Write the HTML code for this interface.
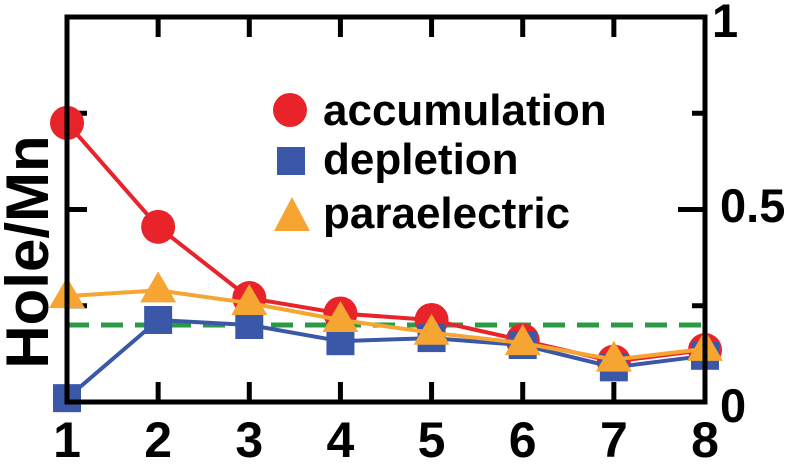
<!DOCTYPE html>
<html><head><meta charset="utf-8"><style>
html,body{margin:0;padding:0;background:#fff;}
svg text{font-family:"Liberation Sans",Arial,sans-serif;font-weight:bold;}
</style></head><body>
<svg id="chart" width="794" height="459" viewBox="0 0 794 459"></svg>
<script>
const layers=[1,2,3,4,5,6,7,8];
const accumulation=[0.725,0.455,0.27,0.23,0.213,0.16,0.105,0.135];
const depletion=[0.01,0.213,0.2,0.158,0.166,0.148,0.09,0.12];
const paraelectric=[0.275,0.29,0.257,0.213,0.18,0.153,0.11,0.138];
const yTickLabels=["0","0.5","1"];
const yTickValues=[0,0.5,1];
const minorYTicks=[0.25,0.5,0.75];
const referenceLevel=0.2;

const L=67,R=705,T=17,B=402;
const xs=v=>L+(v-1)*(R-L)/7;
const ys=v=>B-v*(B-T);
const svg=document.getElementById('chart');
const NS='http://www.w3.org/2000/svg';
function mk(tag,attrs,parent){const e=document.createElementNS(NS,tag);for(const k in attrs)e.setAttribute(k,attrs[k]);(parent||svg).appendChild(e);return e;}

const ticks=mk('g',{stroke:'#000','stroke-width':5});


layers.forEach(v=>{mk('line',{x1:xs(v),x2:xs(v),y1:T,y2:T+20},ticks);mk('line',{x1:xs(v),x2:xs(v),y1:B,y2:B-20},ticks);});
minorYTicks.forEach(v=>{const len=v===0.5?27:13;mk('line',{x1:L,x2:L+20,y1:ys(v),y2:ys(v)},ticks);mk('line',{x1:R,x2:R-len,y1:ys(v),y2:ys(v)},ticks);});

const ref=mk('line',{x1:L,x2:R,y1:ys(referenceLevel),y2:ys(referenceLevel),stroke:'#2a9a45','stroke-width':5,'stroke-dasharray':'22,12'});



function series(data,color,name,shape){
  const g=mk('g',{});
  
  
  mk('polyline',{points:data.map((v,i)=>xs(layers[i])+','+ys(v)).join(' '),fill:'none',stroke:color,'stroke-width':4},g);
  data.forEach((v,i)=>{
    const x=xs(layers[i]),y=ys(v);let m;
    if(shape==='c')m=mk('circle',{cx:x,cy:y,r:17,fill:color},g);
    else if(shape==='s')m=mk('rect',{x:x-14,y:y-14,width:28,height:28,fill:color},g);
    else m=mk('polygon',{points:`${x},${y-19} ${x+18},${y+12} ${x-18},${y+12}`,fill:color},g);
    
    
  });
}
series(accumulation,'#e8232a','accumulation','c');
series(depletion,'#3b58a8','depletion','s');
series(paraelectric,'#f6a533','paraelectric','t');

const frame=mk('rect',{x:L,y:T,width:R-L,height:B-T,fill:'none',stroke:'#000','stroke-width':5});



layers.forEach(v=>{const t=mk('text',{x:xs(v),y:457,'text-anchor':'middle','font-size':50});t.textContent=v;

});
const yBase=[422,222,37];
yTickValues.forEach((v,i)=>{const t=mk('text',{x:(v===1?712:720),y:yBase[i],'font-size':47});t.textContent=yTickLabels[i];

});
const yt=mk('text',{x:0,y:0,'font-size':60,'text-anchor':'middle',transform:'translate(48,252) rotate(-90)'});
yt.textContent='Hole/Mn';



const lg=mk('g',{});


mk('circle',{cx:290,cy:110,r:17,fill:'#e8232a'},lg);
mk('rect',{x:277,y:147,width:28,height:28,fill:'#3b58a8'},lg);
mk('polygon',{points:'292,197 310,231 274,231',fill:'#f6a533'},lg);
[['accumulation',125],['depletion',174],['paraelectric',228]].forEach(([s,y])=>{const t=mk('text',{x:323,y:y,'font-size':44},lg);t.textContent=s;

});
</script>
</body></html>
